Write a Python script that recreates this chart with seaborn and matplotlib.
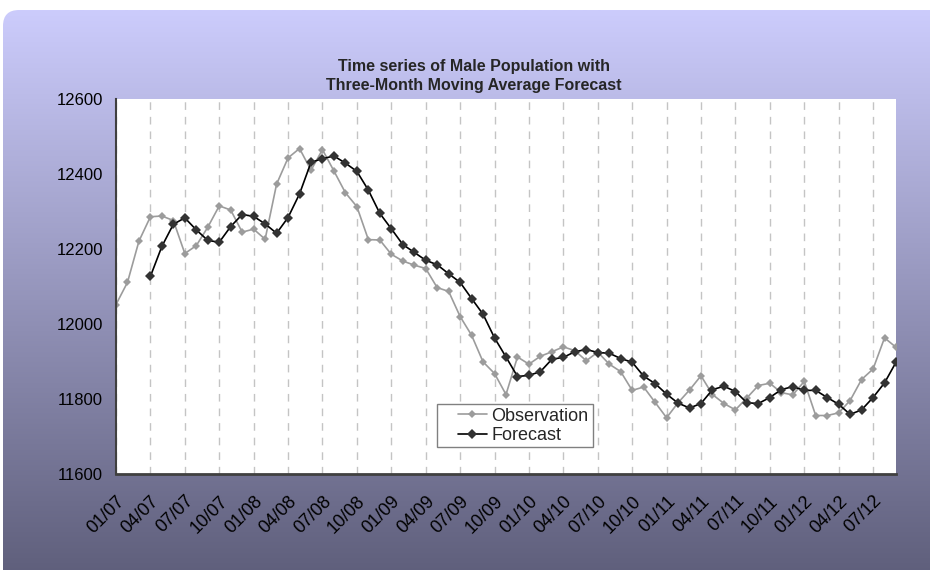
import numpy as np
import pandas as pd
import matplotlib
matplotlib.use("Agg")
import matplotlib.pyplot as plt
import matplotlib.transforms as mtransforms
from matplotlib.patches import FancyBboxPatch, Rectangle
import seaborn as sns

# monthly values, 01/07 .. 09/12
observation = [
    12052, 12111, 12221, 12286, 12288, 12276, 12188, 12209, 12258, 12315,
    12304, 12245, 12253, 12226, 12373, 12443, 12468, 12410, 12465, 12408,
    12350, 12313, 12225, 12224, 12186, 12168, 12157, 12148, 12097, 12087,
    12020, 11970, 11899, 11868, 11812, 11912, 11893, 11914, 11926, 11939,
    11929, 11902, 11925, 11893, 11873, 11823, 11832, 11791, 11750, 11790,
    11824, 11862, 11812, 11788, 11771, 11803, 11836, 11842, 11817, 11811,
    11847, 11756, 11756, 11763, 11796, 11852, 11880, 11963, 11938,
]

# forecast starts at 04/07 (month index 3)
forecast_start = 3
forecast = [
    12127, 12207, 12266, 12283, 12251, 12223, 12218, 12260, 12292, 12287,
    12267, 12242, 12284, 12347, 12431, 12441, 12448, 12429, 12407, 12357,
    12295, 12254, 12212, 12191, 12170, 12158, 12134, 12111, 12068, 12026,
    11963, 11912, 11860, 11863, 11873, 11906, 11911, 11926, 11932, 11924,
    11922, 11908, 11898, 11861, 11841, 11813, 11789, 11776, 11788, 11825,
    11834, 11820, 11790, 11788, 11804, 11825, 11833, 11823, 11823, 11804,
    11786, 11759, 11771, 11804, 11843, 11898,
]

tick_labels = [
    "01/07", "04/07", "07/07", "10/07", "01/08", "04/08", "07/08", "10/08",
    "01/09", "04/09", "07/09", "10/09", "01/10", "04/10", "07/10", "10/10",
    "01/11", "04/11", "07/11", "10/11", "01/12", "04/12", "07/12",
]
y_ticks = [11600, 11800, 12000, 12200, 12400, 12600]

obs_df = pd.DataFrame({"month": np.arange(len(observation)), "value": observation})
fc_df = pd.DataFrame({"month": np.arange(len(forecast)) + forecast_start, "value": forecast})

sns.set_style("white")
plt.rcParams["font.family"] = ["Liberation Sans", "DejaVu Sans"]

W, H = 930, 570
fig = plt.figure(figsize=(W / 100, H / 100), dpi=100)
fig.patch.set_facecolor("white")

# chart area: rounded box with vertical gradient
bg = fig.add_axes([0, 0, 1, 1])
bg.set_xlim(0, W)
bg.set_ylim(H, 0)
bg.axis("off")
top_c = np.array([204, 204, 252]) / 255
bot_c = np.array([92, 92, 120]) / 255
t = np.linspace(0, 1, 256)[:, None]
grad = (top_c[None, :] * (1 - t) + bot_c[None, :] * t)[:, None, :]
img = bg.imshow(grad, extent=(3, W + 20, H + 20, 10), aspect="auto", interpolation="bilinear")
box = FancyBboxPatch((3, 10), W + 40, H + 40, boxstyle="round,pad=0,rounding_size=16",
                     transform=bg.transData, facecolor="none", edgecolor="none")
bg.add_patch(box)
img.set_clip_path(box)

# plot area
x0, x1, y0, y1 = 116, 896, 99, 474
ax = fig.add_axes([x0 / W, 1 - y1 / H, (x1 - x0) / W, (y1 - y0) / H])
ax.set_facecolor("white")

sns.lineplot(data=obs_df, x="month", y="value", ax=ax, color="#9c9c9c", lw=1.2,
             marker="D", markersize=4, markeredgewidth=0, label="Observation")
sns.lineplot(data=fc_df, x="month", y="value", ax=ax, color="black", lw=1.2,
             marker="D", markersize=5.5, markerfacecolor="#333333",
             markeredgecolor="#333333", markeredgewidth=0, label="Forecast")

ax.set_xlim(0, len(observation) - 1)
ax.set_ylim(y_ticks[0], y_ticks[-1])
ax.set_xticks(np.arange(0, len(observation), 3))
ax.set_xticklabels(tick_labels, rotation=45, ha="right", va="top",
                   rotation_mode="anchor", fontsize=13)
shift = mtransforms.ScaledTranslation(-5 / 100, -3 / 100, fig.dpi_scale_trans)
for lab in ax.get_xticklabels():
    lab.set_transform(lab.get_transform() + shift)
ax.set_yticks(y_ticks)
ax.set_yticklabels([str(v) for v in y_ticks], fontsize=12)
ax.set_xlabel("")
ax.set_ylabel("")

ax.xaxis.grid(True, color="#c4c4c4", lw=1, linestyle=(0, (5.5, 5)))
ax.yaxis.grid(False)
for s in ["top", "right"]:
    ax.spines[s].set_visible(False)
ax.spines["left"].set_color("#404040")
ax.spines["left"].set_linewidth(1.5)
ax.spines["bottom"].set_color("#404040")
ax.spines["bottom"].set_linewidth(2)
ax.tick_params(axis="both", direction="inout", length=8.5, width=1, color="#202020",
               labelcolor="black")
ax.tick_params(axis="y", pad=5)
ax.tick_params(axis="x", pad=9)

# legend: white box with gray border, entries inset from the left edge
ax.add_patch(Rectangle(((437 - x0) / (x1 - x0), 1 - (447 - y0) / (y1 - y0)),
                       (593 - 437) / (x1 - x0), (447 - 404) / (y1 - y0),
                       transform=ax.transAxes, facecolor="white", edgecolor="#808080",
                       lw=1, zorder=5))
leg = ax.legend(loc="center left",
                bbox_to_anchor=((458 - x0) / (x1 - x0), 1 - (426 - y0) / (y1 - y0)),
                frameon=False, fontsize=13, handlelength=1.6,
                borderpad=0, labelspacing=0.15, handletextpad=0.25, borderaxespad=0)
leg.set_zorder(6)

fig.text(474 / W, 1 - 76 / H, "Time series of Male Population with\nThree-Month Moving Average Forecast",
         ha="center", va="center", fontsize=11.5, fontweight="bold", linespacing=1.33)

fig.savefig("out.png", dpi=100)
